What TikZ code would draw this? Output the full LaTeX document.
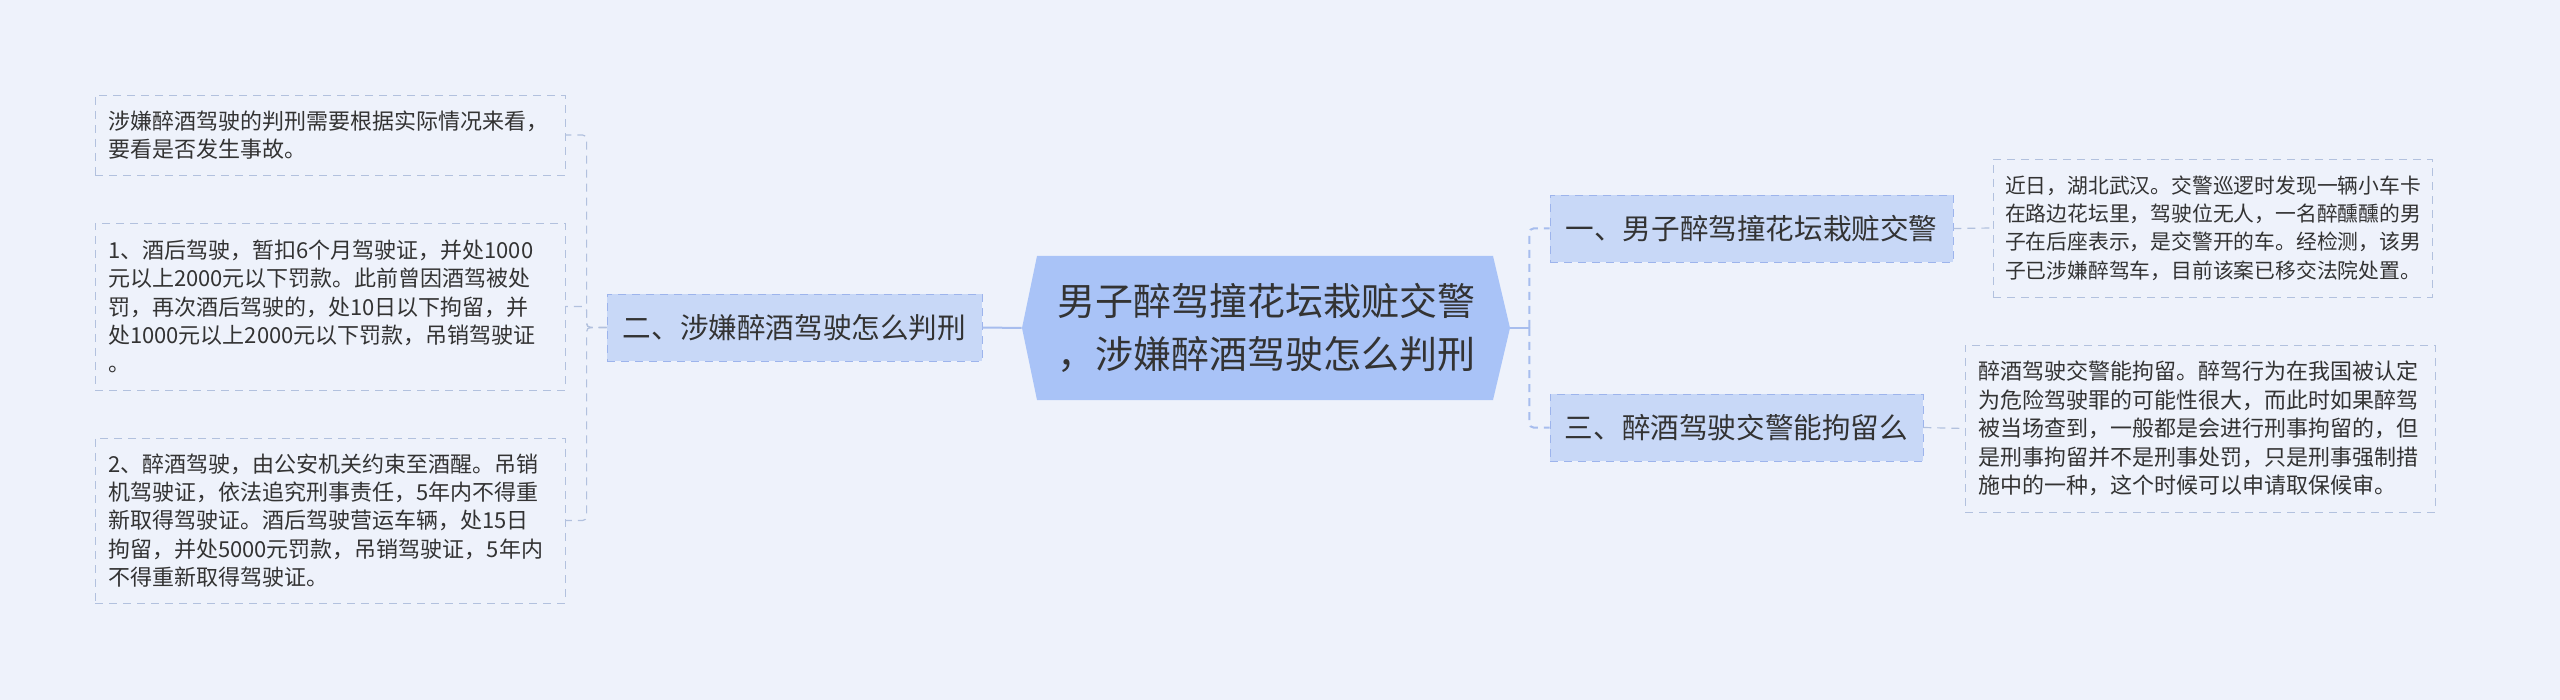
\documentclass[tikz,border=0pt]{standalone}
\usepackage{fontspec}
\newfontfamily\cjk{Noto Sans CJK SC}
\definecolor{bgcol}{HTML}{EEF2FB}
\definecolor{rootfill}{HTML}{A9C3F7}
\definecolor{topicfill}{HTML}{C8D8F7}
\definecolor{topicline}{HTML}{9DB4EC}
\definecolor{leafline}{HTML}{B2C1DE}
\definecolor{linkcol}{HTML}{A7BDEE}
\definecolor{txt}{HTML}{333333}
\tikzset{
    leafbox/.style={draw=leafline, dash pattern=on 4pt off 3pt, fill=bgcol, text=txt,
        align=left, inner xsep=6.5pt, inner ysep=0pt, text width=222pt,
        minimum height=#1, font=\cjk\fontsize{11}{14.2}\selectfont},
    topicbox/.style={draw=topicline, dash pattern=on 4pt off 3pt, fill=topicfill, text=txt,
        inner sep=0pt, minimum width=#1, minimum height=33.5pt,
        font=\cjk\fontsize{14.3}{18}\selectfont},
    rootbox/.style={inner sep=0pt, minimum width=244pt, minimum height=72pt, text=txt,
        align=center, font=\cjk\fontsize{19}{26.6}\selectfont,
        path picture={\fill[rootfill] (path picture bounding box.west)
            -- ([xshift=7.5pt]path picture bounding box.north west)
            -- ([xshift=-8.5pt]path picture bounding box.north east)
            -- (path picture bounding box.east)
            -- ([xshift=-8.5pt]path picture bounding box.south east)
            -- ([xshift=7.5pt]path picture bounding box.south west) -- cycle;}},
    leaflink/.style={draw=leafline, line width=0.6pt, dash pattern=on 4pt off 3pt, rounded corners=2pt},
    trunklink/.style={draw=linkcol, line width=1pt, dash pattern=on 4pt off 3pt, rounded corners=2pt},
    solidlink/.style={draw=linkcol, line width=1pt}
}
\begin{document}
\begin{tikzpicture}[x=0.5pt,y=-0.5pt]
    \fill[bgcol] (0,0) rectangle (2560,700);
    \useasboundingbox (0,0) rectangle (2560,700);
    % Root
    \node[rootbox] (root) at (1266,328) {男子醉驾撞花坛栽赃交警\\，涉嫌醉酒驾驶怎么判刑};
    % Left branch
    \node[topicbox=187.5pt] (b2) at (794.5,327.5) {二、涉嫌醉酒驾驶怎么判刑};
    \node[leafbox=40pt] (l1) at (330,135) {涉嫌醉酒驾驶的判刑需要根据实际情况来看，\\要看是否发生事故。};
    \node[leafbox=83.5pt] (l2) at (330,306.5) {1、酒后驾驶，暂扣6个月驾驶证，并处1000\\元以上2000元以下罚款。此前曾因酒驾被处\\罚，再次酒后驾驶的，处10日以下拘留，并\\处1000元以上2000元以下罚款，吊销驾驶证\\。};
    \node[leafbox=82.5pt] (l3) at (330,520.5) {2、醉酒驾驶，由公安机关约束至酒醒。吊销\\机驾驶证，依法追究刑事责任，5年内不得重\\新取得驾驶证。酒后驾驶营运车辆，处15日\\拘留，并处5000元罚款，吊销驾驶证，5年内\\不得重新取得驾驶证。};
    \draw[solidlink] (root.west) -- (b2.east);
    \draw[leaflink] (b2.west) -- ++(-20,0) |- (l1.east);
    \draw[leaflink] (b2.west) -- ++(-20,0) |- (l2.east);
    \draw[leaflink] (b2.west) -- ++(-20,0) |- (l3.east);
    % Right branch
    \node[topicbox=201.5pt] (b1) at (1751.5,228.5) {一、男子醉驾撞花坛栽赃交警};
    \node[topicbox=186.5pt] (b3) at (1736.5,427.5) {三、醉酒驾驶交警能拘留么};
    \node[leafbox=69pt, text width=207.5pt, inner xsep=6pt, font=\cjk\fontsize{10.4}{14.2}\selectfont] (r1) at (2212.5,228) {近日，湖北武汉。交警巡逻时发现一辆小车卡\\在路边花坛里，驾驶位无人，一名醉醺醺的男\\子在后座表示，是交警开的车。经检测，该男\\子已涉嫌醉驾车，目前该案已移交法院处置。};
    \node[leafbox=83.5pt] (r2) at (2200,428.5) {醉酒驾驶交警能拘留。醉驾行为在我国被认定\\为危险驾驶罪的可能性很大，而此时如果醉驾\\被当场查到，一般都是会进行刑事拘留的，但\\是刑事拘留并不是刑事处罚，只是刑事强制措\\施中的一种，这个时候可以申请取保候审。};
    \draw[solidlink] (root.east) -- ++(19,0) coordinate (rj);
    \draw[trunklink] (rj) |- (b1.west);
    \draw[trunklink] (rj) |- (b3.west);
    \draw[leaflink] (b1.east) -- (r1.west);
    \draw[leaflink] (b3.east) -- (r2.west);
\end{tikzpicture}
\end{document}
